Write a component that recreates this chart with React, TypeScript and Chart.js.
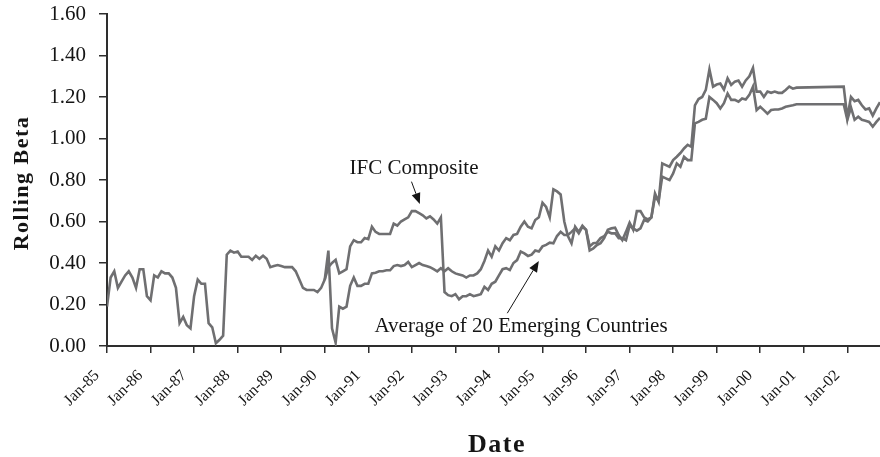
import React, { useEffect, useRef } from 'react';
import { Chart, registerables } from 'chart.js';

Chart.register(...registerables);

// ---- Data (monthly, Jan-85 = index 0) ----
const FIRST_YEAR = 85;
const Y_MIN = 0;
const Y_MAX = 1.6;
const Y_STEP = 0.2;
const TICK_EVERY_MONTHS = 12;

const IFC_COMPOSITE: (number | null)[] = [
  0.19, 0.33, 0.36, 0.28, 0.31, 0.34, 0.36, 0.33, 0.28, 0.37,
  0.37, 0.24, 0.22, 0.34, 0.33, 0.36, 0.35, 0.35, 0.33, 0.28,
  0.11, 0.14, 0.10, 0.085, 0.24, 0.32, 0.30, 0.30, 0.11, 0.09,
  0.013, 0.03, 0.05, 0.44, 0.46, 0.45, 0.455, 0.43, 0.43, 0.43,
  0.415, 0.435, 0.42, 0.435, 0.42, 0.38, 0.385, 0.39, 0.385, 0.38,
  0.38, 0.38, 0.36, 0.32, 0.28, 0.27, 0.27, 0.27, 0.26, 0.28,
  0.32, 0.38, 0.40, 0.415, 0.35, 0.36, 0.37, 0.48, 0.51, 0.50,
  0.50, 0.52, 0.515, 0.575, 0.55, 0.54, 0.54, 0.54, 0.54, 0.59,
  0.58, 0.60, 0.61, 0.62, 0.65, 0.65, 0.64, 0.63, 0.615, 0.625,
  0.61, 0.59, 0.62, 0.26, 0.245, 0.24, 0.25, 0.225, 0.24, 0.24,
  0.25, 0.24, 0.245, 0.25, 0.285, 0.27, 0.30, 0.31, 0.34, 0.37,
  0.375, 0.366, 0.40, 0.414, 0.455, 0.446, 0.434, 0.44, 0.46, 0.455,
  0.48, 0.487, 0.498, 0.495, 0.53, 0.55, 0.535, 0.535, 0.55, 0.567,
  0.543, 0.575, 0.56, 0.48, 0.495, 0.498, 0.52, 0.53, 0.55, 0.543,
  0.543, 0.52, 0.52, 0.51, 0.58, 0.567, 0.556, 0.567, 0.607, 0.60,
  0.62, 0.72, 0.70, 0.816, 0.808, 0.80, 0.832, 0.88, 0.864, 0.912,
  0.896, 0.896, 1.073, 1.08, 1.09, 1.095, 1.20, 1.186, 1.17, 1.145,
  1.17, 1.217, 1.186, 1.186, 1.177, 1.193, 1.188, 1.21, 1.25, 1.137,
  1.153, 1.137, 1.12, 1.137, 1.14, 1.14, 1.145, 1.153, 1.157, 1.16,
  1.165, null, null, null, null, null, null, null, null, null,
  null, null, null, 1.165, 1.09, 1.15, 1.09, 1.105, 1.09, 1.086,
  1.08, 1.057, 1.08, 1.10,
];

const AVERAGE_20: (number | null)[] = [
  null, null, null, null, null, null, null, null, null, null,
  null, null, null, null, null, null, null, null, null, null,
  null, null, null, null, null, null, null, null, null, null,
  null, null, null, null, null, null, null, null, null, null,
  null, null, null, null, null, null, null, null, null, null,
  null, null, null, null, null, null, null, null, null, null,
  0.32, 0.46, 0.085, 0.016, 0.19, 0.18, 0.19, 0.29, 0.33, 0.29,
  0.29, 0.30, 0.30, 0.35, 0.353, 0.36, 0.36, 0.365, 0.365, 0.385,
  0.39, 0.385, 0.39, 0.405, 0.38, 0.39, 0.40, 0.39, 0.385, 0.38,
  0.37, 0.36, 0.375, 0.36, 0.375, 0.36, 0.35, 0.345, 0.34, 0.33,
  0.34, 0.34, 0.35, 0.37, 0.41, 0.46, 0.43, 0.48, 0.46, 0.495,
  0.52, 0.51, 0.535, 0.54, 0.575, 0.60, 0.575, 0.567, 0.607, 0.62,
  0.69, 0.67, 0.62, 0.755, 0.745, 0.73, 0.60, 0.53, 0.495, 0.575,
  0.55, 0.58, 0.56, 0.46, 0.47, 0.487, 0.495, 0.52, 0.56, 0.567,
  0.57, 0.535, 0.51, 0.55, 0.594, 0.56, 0.65, 0.65, 0.62, 0.61,
  0.62, 0.735, 0.695, 0.88, 0.872, 0.864, 0.896, 0.912, 0.93, 0.952,
  0.969, 0.96, 1.16, 1.19, 1.20, 1.234, 1.333, 1.25, 1.26, 1.265,
  1.236, 1.29, 1.258, 1.274, 1.279, 1.25, 1.28, 1.30, 1.34, 1.226,
  1.226, 1.20, 1.226, 1.22, 1.226, 1.22, 1.22, 1.234, 1.25, 1.24,
  1.245, null, null, null, null, null, null, null, null, null,
  null, null, null, 1.25, 1.10, 1.20, 1.18, 1.186, 1.16, 1.14,
  1.145, 1.11, 1.145, 1.175,
];

// Annotation texts and their anchor points in data space [monthIndex, beta]
const IFC_LABEL = 'IFC Composite';
const IFC_LABEL_AT = [84.6, 0.829];
const IFC_ARROW_FROM = [83.9, 0.792];
const IFC_ARROW_TO = [86.2, 0.684];
const AVG_LABEL = 'Average of 20 Emerging Countries';
const AVG_LABEL_AT = [73.7, 0.0675];
const AVG_ARROW_FROM = [110.3, 0.158];
const AVG_ARROW_TO = [119.0, 0.41];

const Y_TITLE = 'Rolling Beta';
const X_TITLE = 'Date';

// ---- Styles ----
const SERIF = '"Liberation Serif", "Times New Roman", Times, serif';
const LINE_COLOR = '#6f6f71';
const AXIS_COLOR = '#2e2e2e';
const TEXT_COLOR = '#151515';

function monthLabel(v: number) {
  const yy = (FIRST_YEAR + Math.round(v / TICK_EVERY_MONTHS)) % 100;
  return `Jan-${String(yy).padStart(2, '0')}`;
}

function drawArrow(ctx: CanvasRenderingContext2D, x1: number, y1: number, x2: number, y2: number) {
  const ang = Math.atan2(y2 - y1, x2 - x1);
  const headLen = 11;
  const headHalf = 4.5;
  const bx = x2 - headLen * Math.cos(ang);
  const by = y2 - headLen * Math.sin(ang);
  ctx.beginPath();
  ctx.moveTo(x1, y1);
  ctx.lineTo(bx, by);
  ctx.stroke();
  ctx.beginPath();
  ctx.moveTo(x2, y2);
  ctx.lineTo(bx + headHalf * Math.sin(ang), by - headHalf * Math.cos(ang));
  ctx.lineTo(bx - headHalf * Math.sin(ang), by + headHalf * Math.cos(ang));
  ctx.closePath();
  ctx.fill();
}

const annotationPlugin = {
  id: 'annotations',
  afterDraw(chart: any) {
    const { ctx, scales } = chart;
    const xs = scales.x;
    const ys = scales.y;
    const area = chart.chartArea;
    const px = (p: number[]) => [xs.getPixelForValue(p[0]), ys.getPixelForValue(p[1])];
    ctx.save();
    ctx.fillStyle = TEXT_COLOR;
    ctx.strokeStyle = TEXT_COLOR;
    ctx.lineWidth = 1;

    // x tick labels (rotated 45°)
    ctx.font = `16px ${SERIF}`;
    ctx.textAlign = 'right';
    ctx.textBaseline = 'middle';
    for (const t of xs.ticks) {
      const x = xs.getPixelForValue(t.value);
      ctx.save();
      ctx.translate(x - 10, area.bottom + 27);
      ctx.rotate(-Math.PI / 4);
      ctx.fillText(monthLabel(t.value), 0, 0);
      ctx.restore();
    }

    ctx.font = `21px ${SERIF}`;
    ctx.textBaseline = 'alphabetic';
    ctx.textAlign = 'center';
    const [ix, iy] = px(IFC_LABEL_AT);
    ctx.fillText(IFC_LABEL, ix, iy);
    ctx.textAlign = 'left';
    const [ax, ay] = px(AVG_LABEL_AT);
    ctx.fillText(AVG_LABEL, ax, ay);

    const [f1x, f1y] = px(IFC_ARROW_FROM);
    const [t1x, t1y] = px(IFC_ARROW_TO);
    drawArrow(ctx, f1x, f1y, t1x, t1y);
    const [f2x, f2y] = px(AVG_ARROW_FROM);
    const [t2x, t2y] = px(AVG_ARROW_TO);
    drawArrow(ctx, f2x, f2y, t2x, t2y);

    // Axis titles
    ctx.font = `bold 22px ${SERIF}`;
    (ctx as any).letterSpacing = '1.5px';
    ctx.textAlign = 'center';
    ctx.textBaseline = 'alphabetic';
    ctx.save();
    ctx.translate(28, (area.top + area.bottom) / 2 + 3);
    ctx.rotate(-Math.PI / 2);
    ctx.fillText(Y_TITLE, 0, 0);
    ctx.restore();

    ctx.font = `bold 26px ${SERIF}`;
    (ctx as any).letterSpacing = '1.5px';
    ctx.fillText(X_TITLE, 497, chart.height - 5);
    ctx.restore();
  },
};

export default function App() {
  const canvasRef = useRef<HTMLCanvasElement | null>(null);

  useEffect(() => {
    const canvas = canvasRef.current;
    if (!canvas) return;
    const n = IFC_COMPOSITE.length;
    const chart = new Chart(canvas, {
      type: 'line',
      data: {
        datasets: [
          {
            label: 'IFC Composite',
            data: IFC_COMPOSITE.map((v, i) => ({ x: i, y: v })),
            borderColor: LINE_COLOR,
            borderWidth: 2.6,
            pointRadius: 0,
            tension: 0,
            spanGaps: true,
          },
          {
            label: 'Average of 20 Emerging Countries',
            data: AVERAGE_20.map((v, i) => ({ x: i, y: v })),
            borderColor: LINE_COLOR,
            borderWidth: 2.6,
            pointRadius: 0,
            tension: 0,
            spanGaps: true,
          },
        ],
      },
      options: {
        responsive: false,
        animation: false,
        layout: { padding: { top: 14, right: 0, bottom: 0, left: 0 } },
        plugins: {
          legend: { display: false },
          tooltip: { enabled: false },
        },
        scales: {
          x: {
            type: 'linear',
            min: 0,
            max: n - 1,
            grid: {
              display: true,
              drawOnChartArea: false,
              drawTicks: true,
              tickLength: 7,
              color: AXIS_COLOR,
              lineWidth: 1.5,
            },
            border: { display: true, color: AXIS_COLOR, width: 2 },
            ticks: {
              display: false,
              stepSize: TICK_EVERY_MONTHS,
              includeBounds: false,
              autoSkip: false,
              callback: (value: any) => monthLabel(Number(value)),
            },
            afterFit: (scale: any) => {
              scale.height = 111;
              scale.paddingLeft = 0;
              scale.paddingRight = 0;
            },
          },
          y: {
            min: Y_MIN,
            max: Y_MAX,
            grid: {
              display: true,
              drawOnChartArea: false,
              drawTicks: true,
              tickLength: 8,
              color: AXIS_COLOR,
              lineWidth: 1.5,
            },
            border: { display: true, color: AXIS_COLOR, width: 2 },
            ticks: {
              stepSize: Y_STEP,
              padding: 13,
              color: TEXT_COLOR,
              font: { family: SERIF, size: 21 },
              callback: (value: any) => Number(value).toFixed(2),
            },
            afterFit: (scale: any) => {
              scale.width = 107;
              scale.paddingTop = 0;
              scale.paddingBottom = 0;
            },
          },
        },
      },
      plugins: [annotationPlugin],
    } as any);
    return () => chart.destroy();
  }, []);

  return (
    <div style={{ position: 'absolute', left: 0, top: 0, width: 880, height: 457, background: '#fff' }}>
      <canvas ref={canvasRef} width={880} height={457} style={{ display: 'block' }} />
    </div>
  );
}
